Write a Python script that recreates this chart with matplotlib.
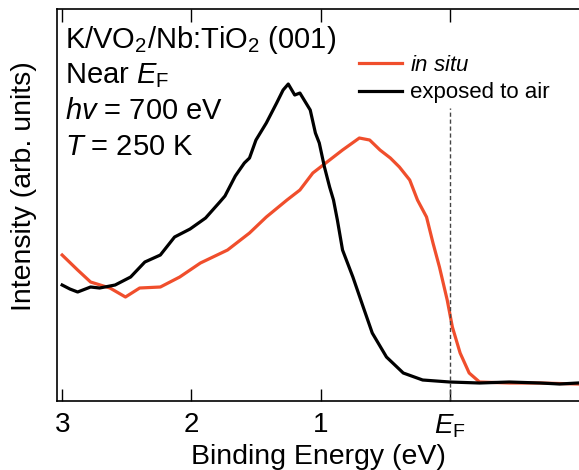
import matplotlib.pyplot as plt

plt.rcParams['font.family'] = ['Liberation Sans', 'DejaVu Sans']
plt.rcParams['mathtext.fontset'] = 'custom'
plt.rcParams['mathtext.rm'] = 'Liberation Sans'
plt.rcParams['mathtext.it'] = 'Liberation Sans:italic'

#--- data (binding energy in eV, intensity in arb. units)
air_energy = [3.00, 2.94, 2.88, 2.78, 2.71, 2.59, 2.47, 2.36, 2.24, 2.13, 2.01, 1.89,
              1.78, 1.74, 1.66, 1.59, 1.55, 1.50, 1.42, 1.34, 1.29, 1.25, 1.20, 1.16,
              1.08, 1.04, 1.01, 0.97, 0.93, 0.90, 0.87, 0.83, 0.75, 0.67, 0.60, 0.49,
              0.36, 0.21, 0.00, -0.23, -0.46, -0.70, -0.85, -0.99]
air_intensity = [116, 112, 109, 114, 113, 116, 124, 139, 146, 164, 172, 183,
                 199, 205, 225, 238, 243, 261, 278, 298, 311, 317, 306, 308,
                 291, 268, 258, 234, 214, 201, 181, 151, 124, 94, 68, 44,
                 28, 21, 19, 18, 19, 18, 17, 18]

insitu_energy = [3.00, 2.88, 2.78, 2.63, 2.51, 2.40, 2.24, 2.09, 1.93, 1.72, 1.55, 1.42,
                 1.26, 1.16, 1.06, 0.93, 0.83, 0.70, 0.62, 0.54, 0.46, 0.39, 0.31, 0.25,
                 0.18, 0.13, 0.08, 0.02, -0.02, -0.08, -0.15, -0.23, -0.46, -0.70, -0.99]
insitu_intensity = [146, 131, 119, 113, 104, 113, 114, 124, 138, 151, 168, 184,
                    201, 211, 228, 241, 251, 263, 261, 251, 243, 234, 221, 201,
                    184, 158, 134, 101, 74, 48, 28, 19, 18, 18, 17]

tick_pos = [3, 2, 1, 0]
tick_labels = ['3', '2', '1', r'$E_\mathrm{F}$']

#--- plot
fig = plt.figure(figsize=(5.79, 4.70), dpi=100)
ax = fig.add_axes([0.0984, 0.1468, 0.9016, 0.834])

ax.plot(insitu_energy, insitu_intensity, color='#F04E2C', lw=2.3, label='$in\\ situ$')
ax.plot(air_energy, air_intensity, color='black', lw=2.3, label='exposed to air')
ax.axvline(0, ymax=0.747, color='#444444', lw=1, ls=(0, (3, 2)))

ax.set_xlim(3.04, -1.0)
ax.set_ylim(0, 392)
ax.set_xticks(tick_pos)
ax.set_xticklabels(tick_labels)
ax.set_yticks([])
ax.tick_params(axis='x', direction='in', length=9, width=1, top=True, labelsize=20, pad=8)
for s in ['left', 'bottom', 'top']:
    ax.spines[s].set_linewidth(1.2)
ax.spines['right'].set_visible(False)

ax.set_xlabel('Binding Energy (eV)', fontsize=20.5, labelpad=3)
ax.set_ylabel('Intensity (arb. units)', fontsize=20.5)
ax.yaxis.set_label_coords(-0.038, 0.548)

# sample info
info = ['K/VO$_2$/Nb:TiO$_2$ (001)', r'Near $E_\mathrm{F}$', r'$hv$ = 700 eV', r'$T$ = 250 K']
for i, line in enumerate(info):
    ax.text(0.016, 0.9005 - i * 0.091, line, transform=ax.transAxes, fontsize=21,
            va='baseline', ha='left')

leg = ax.legend(loc='upper left', bbox_to_anchor=(0.57, 0.895), frameon=False,
                fontsize=16, handlelength=1.95, handletextpad=0.35, labelspacing=0.3,
                borderaxespad=0, borderpad=0.2)

plt.savefig('out.png', dpi=100)
